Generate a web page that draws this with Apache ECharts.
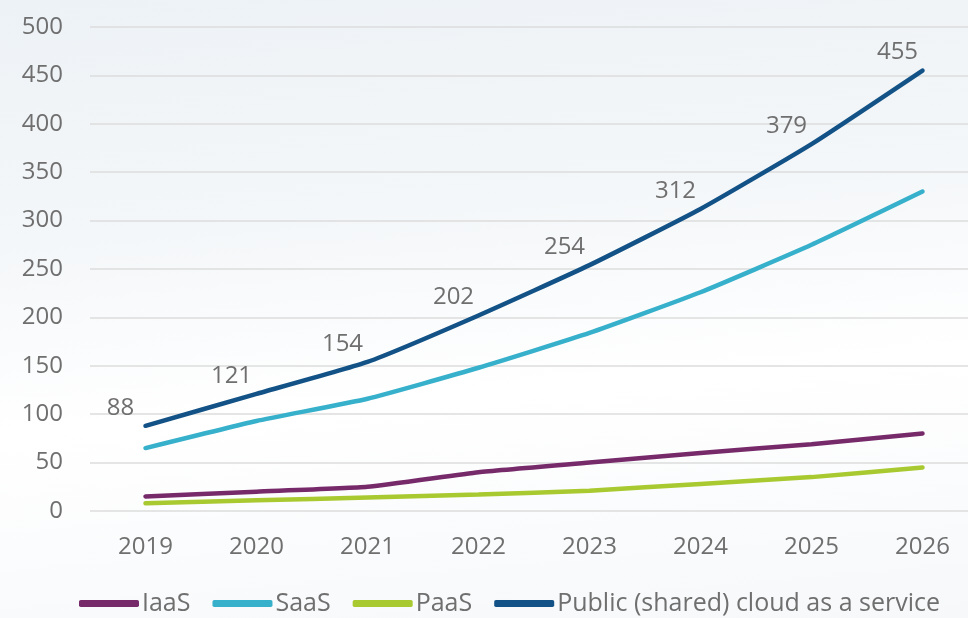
<!DOCTYPE html>
<html>
<head>
<meta charset="utf-8">
<script src="https://cdn.jsdelivr.net/npm/echarts@6/dist/echarts.min.js"></script>
<style>
  html, body { margin: 0; padding: 0; }
  #chart {
    width: 968px;
    height: 618px;
    background: linear-gradient(175deg, #edf2f6 0%, #f4f7f9 35%, #ffffff 62%, #f6f8fa 100%);
  }
</style>
</head>
<body>
<div id="chart"></div>
<script>
const years = ['2019', '2020', '2021', '2022', '2023', '2024', '2025', '2026'];
const iaas = [15, 20, 25, 40, 50, 60, 69, 80];
const saas = [65, 93, 116, 148, 184, 226, 275, 330];
const paas = [8, 11, 14, 17, 21, 28, 35, 45];
const publicCloud = [88, 121, 154, 202, 254, 312, 379, 455];

const font = '"Open Sans", "Noto Sans", sans-serif';

function line(name, data, color, withLabel) {
  return {
    name: name,
    type: 'line',
    data: data,
    smooth: 0.15,
    symbol: 'circle',
    symbolSize: 0.1,
    showSymbol: true,
    lineStyle: { width: 4.5, color: color, cap: 'round' },
    itemStyle: { color: color },
    label: {
      show: withLabel,
      position: 'top',
      offset: [-25, -1],
      color: '#6f6f6f',
      fontSize: 24,
      fontFamily: font
    },
    z: withLabel ? 5 : 3
  };
}

const chart = echarts.init(document.getElementById('chart'));
chart.setOption({
  animation: false,
  grid: { left: 90, top: 27, right: -10, bottom: 107, outerBoundsMode: 'none', containLabel: false },
  xAxis: {
    type: 'category',
    data: years,
    boundaryGap: true,
    axisLine: { show: false },
    axisTick: { show: false },
    axisLabel: { color: '#6f6f6f', fontSize: 24, fontFamily: font, margin: 24 }
  },
  yAxis: {
    type: 'value',
    min: 0,
    max: 500,
    interval: 50,
    axisLine: { show: false },
    axisTick: { show: false },
    axisLabel: { color: '#6f6f6f', fontSize: 24, fontFamily: font, margin: 27 },
    splitLine: { lineStyle: { color: '#dcdcdc', width: 1.5 } }
  },
  legend: {
    bottom: -3,
    left: 74,
    icon: 'roundRect',
    itemWidth: 60,
    itemHeight: 7,
    itemGap: 22,
    textStyle: { color: '#6f6f6f', fontSize: 25, fontFamily: font, padding: [0, 0, 0, -2] },
    data: ['IaaS', 'SaaS', 'PaaS', 'Public (shared) cloud as a service']
  },
  series: [
    line('IaaS', iaas, '#772a6a', false),
    line('SaaS', saas, '#36b0cb', false),
    line('PaaS', paas, '#a8c92f', false),
    line('Public (shared) cloud as a service', publicCloud, '#135286', true)
  ]
});
</script>
</body>
</html>
